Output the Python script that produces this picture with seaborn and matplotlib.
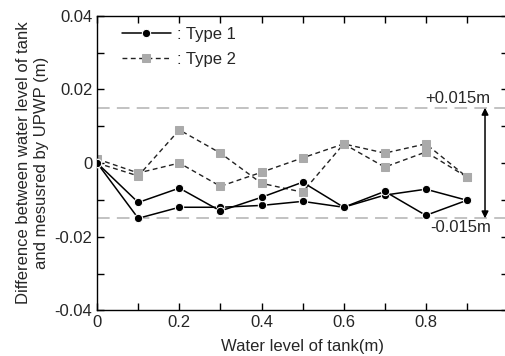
import matplotlib.pyplot as plt
import numpy as np
import pandas as pd
import seaborn as sns
from matplotlib.ticker import MultipleLocator

sns.set_style("ticks")
plt.rcParams['font.family'] = ['Liberation Sans', 'DejaVu Sans']
plt.rcParams['axes.unicode_minus'] = False

# water level of tank (m)
level = [0.0, 0.1, 0.2, 0.3, 0.4, 0.5, 0.6, 0.7, 0.8, 0.9]

# Type 1 (two runs)
type1_a = [0.0, -0.0150, -0.0120, -0.0120, -0.0115, -0.0104, -0.0120, -0.0087, -0.0071, -0.0101]
type1_b = [0.0, -0.0107, -0.0068, -0.0130, -0.0093, -0.0052, -0.0120, -0.0077, -0.0142, -0.0101]

# Type 2 (two runs)
type2_a = [0.0, -0.0035, 0.0090, 0.0027, -0.0055, -0.0079, 0.0052, -0.0011, 0.0030, -0.0038]
type2_b = [0.0011, -0.0027, 0.0000, -0.0063, -0.0025, 0.0014, 0.0052, 0.0027, 0.0052, -0.0038]

tolerance = 0.015

fig = plt.figure(figsize=(5.06, 3.56), dpi=100)
ax = fig.add_axes([0.192, 0.128, 0.812, 0.828])

# tolerance band lines
for y in (tolerance, -tolerance):
    ax.axhline(y, color='#bdbdbd', linestyle=(0, (7, 4)), linewidth=1.3, zorder=1)

t1 = dict(color='black', marker='o', markersize=6, linewidth=1.1, linestyle='-')
t2 = dict(color='#222222', marker='s', markersize=6, markerfacecolor='#aaaaaa',
          markeredgecolor='#aaaaaa', linewidth=1.0, linestyle=(0, (3.5, 2.5)))

sns.lineplot(x=level, y=type1_a, ax=ax, label=': Type 1', zorder=3, **t1)
sns.lineplot(x=level, y=type1_b, ax=ax, zorder=3, **t1)
sns.lineplot(x=level, y=type2_a, ax=ax, label=': Type 2', zorder=2, **t2)
sns.lineplot(x=level, y=type2_b, ax=ax, zorder=2, **t2)

# double arrow for tolerance range
ax.annotate('', xy=(0.944, -tolerance), xytext=(0.944, tolerance),
            arrowprops=dict(arrowstyle='<|-|>', color='black', lw=1.1,
                            mutation_scale=10, shrinkA=0, shrinkB=0))
ax.text(0.957, tolerance + 0.0005, '+0.015m', ha='right', va='bottom', fontsize=12)
ax.text(0.958, -tolerance - 0.0005, '-0.015m', ha='right', va='top', fontsize=12)

ax.set_xlim(0, 1.0)
ax.set_ylim(-0.04, 0.04)
ax.xaxis.set_major_locator(MultipleLocator(0.2))
ax.xaxis.set_minor_locator(MultipleLocator(0.1))
ax.yaxis.set_major_locator(MultipleLocator(0.02))
ax.yaxis.set_minor_locator(MultipleLocator(0.01))
ax.xaxis.set_major_formatter(lambda v, p: f'{v:g}')
ax.yaxis.set_major_formatter(lambda v, p: f'{v:g}')
ax.tick_params(which='both', direction='in', top=True, right=True,
               labelsize=12, width=1, color='black')
ax.tick_params(which='major', length=5)
ax.tick_params(which='minor', length=5)
for s in ax.spines.values():
    s.set_color('black')
    s.set_linewidth(1)

ax.set_xlabel('Water level of tank(m)', fontsize=12, labelpad=6)
ax.set_ylabel('Difference between water level of tank\nand mesusred by UPWP (m)',
              fontsize=12, labelpad=4)

ax.legend(loc='upper left', bbox_to_anchor=(0.045, 0.985), frameon=False,
          fontsize=12, handlelength=2.9, handletextpad=0.4, labelspacing=0.6,
          borderaxespad=0)

fig.savefig('out.png', dpi=100)
